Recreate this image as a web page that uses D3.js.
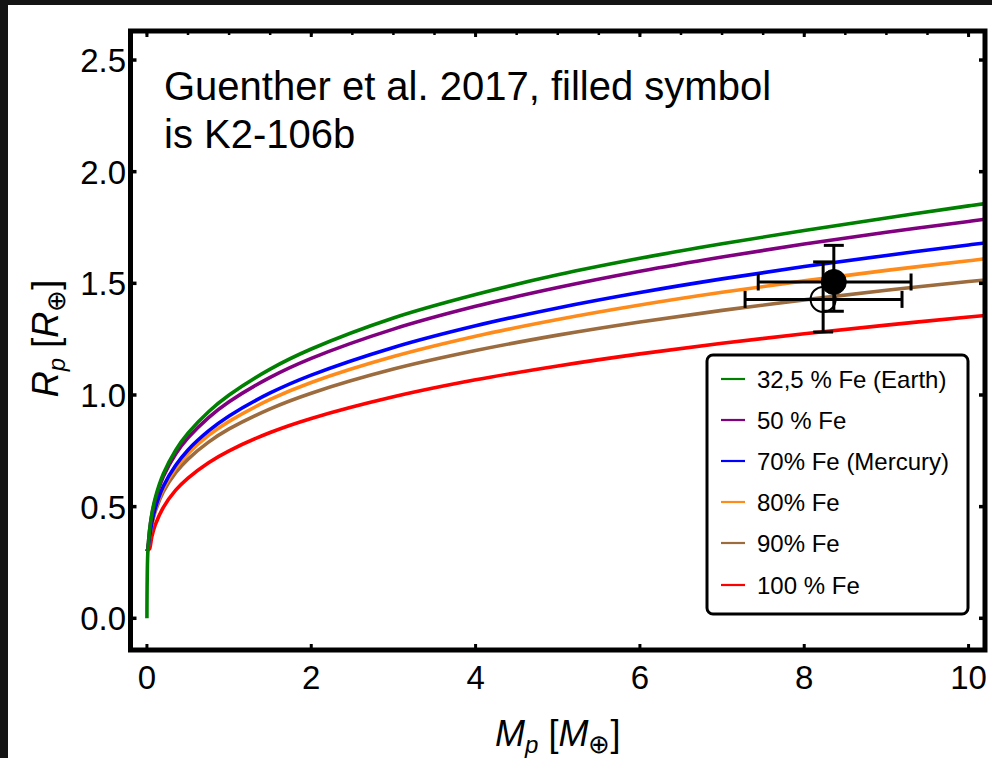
<!DOCTYPE html>
<html><head><meta charset="utf-8">
<script src="https://cdn.jsdelivr.net/npm/d3@7"></script>
<style>body{margin:0;background:#fff;} svg{display:block;}</style>
</head><body><svg id="c" width="992" height="758"></svg>
<script>
// ---- data ----
const masses    = [0, 0.01, 0.03, 0.06, 0.1, 0.2, 0.35, 0.5, 0.75, 1, 1.5, 2, 3, 4, 5, 6, 7, 8, 9, 10, 10.2];
const rFe32     = [0.00, 0.288, 0.388, 0.468, 0.537, 0.647, 0.753, 0.829, 0.925, 1.000, 1.116, 1.206, 1.345, 1.450, 1.538, 1.612, 1.677, 1.737, 1.793, 1.847, 1.857];
const rFe50     = [0.30, 0.310, 0.386, 0.463, 0.529, 0.635, 0.736, 0.808, 0.899, 0.970, 1.079, 1.164, 1.295, 1.397, 1.481, 1.554, 1.618, 1.676, 1.729, 1.777, 1.787];
const rFe70     = [0.30, 0.310, 0.356, 0.429, 0.491, 0.591, 0.685, 0.754, 0.839, 0.906, 1.009, 1.089, 1.213, 1.310, 1.390, 1.459, 1.520, 1.575, 1.625, 1.672, 1.681];
const rFe80     = [0.30, 0.310, 0.356, 0.426, 0.486, 0.581, 0.672, 0.737, 0.819, 0.882, 0.980, 1.056, 1.172, 1.263, 1.338, 1.403, 1.460, 1.511, 1.558, 1.601, 1.610];
const rFe90     = [0.30, 0.310, 0.353, 0.420, 0.477, 0.567, 0.652, 0.713, 0.789, 0.848, 0.938, 1.008, 1.116, 1.199, 1.268, 1.327, 1.379, 1.426, 1.469, 1.508, 1.515];
const rFe100    = [0.30, 0.305, 0.310, 0.366, 0.417, 0.497, 0.574, 0.628, 0.697, 0.750, 0.832, 0.895, 0.992, 1.068, 1.130, 1.184, 1.232, 1.274, 1.313, 1.349, 1.356];
const seriesNames  = ["32,5 % Fe (Earth)", "50 % Fe", "70% Fe (Mercury)", "80% Fe", "90% Fe", "100 % Fe"];
const seriesColors = ["#008000", "#800080", "#0000ff", "#ff8c1a", "#9c6b3e", "#ff0000"];
const seriesValues = [rFe32, rFe50, rFe70, rFe80, rFe90, rFe100];

const pointMass     = [8.36, 8.23];
const pointRadius   = [1.506, 1.428];
const pointMassLo   = [7.44, 7.28];
const pointMassHi   = [9.30, 9.19];
const pointRadiusLo = [1.375, 1.282];
const pointRadiusHi = [1.67, 1.596];
const pointFilled   = [true, false];

const xTicks = [0, 2, 4, 6, 8, 10];
const yTicks = [0, 0.5, 1.0, 1.5, 2.0, 2.5];
const xMinorTicks = d3.range(0, 10.01, 0.5);

// ---- layout ----
const svg = d3.select("#c");
const W = 992, H = 758;
const L = 130.5, R = 985, T = 31, B = 650;
const x = d3.scaleLinear().domain([-0.2, 10.2]).range([L, R]);
const y = d3.scaleLinear().domain([-0.142, 2.63]).range([B, T]);
const FONT = "'Liberation Sans', Arial, sans-serif";

// background with dark strip at top/left
svg.append("rect").attr("width", W).attr("height", H).attr("fill", "#141414");
svg.append("rect").attr("x", 8).attr("y", 5).attr("width", W - 8).attr("height", H - 5).attr("fill", "#fff");

svg.append("defs").append("clipPath").attr("id", "clip")
  .append("rect").attr("x", L).attr("y", T).attr("width", R - L).attr("height", B - T);

// curves (draw last legend entry first so green is on top)
const line = d3.line().x(d => x(d[0])).y(d => y(d[1])).curve(d3.curveCatmullRom.alpha(0.5));
const gCurves = svg.append("g").attr("clip-path", "url(#clip)");
for (let i = seriesValues.length - 1; i >= 0; i--) {
  gCurves.append("path")
    .attr("d", line(masses.map((m, j) => [m, seriesValues[i][j]])))
    .attr("fill", "none").attr("stroke", seriesColors[i]).attr("stroke-width", 3.6)
    .attr("stroke-linejoin", "round");
}

// error bars & points
const gPts = svg.append("g");
const capV = 10, capH = 8.5;
[1, 0].forEach(i => {
  const cx = x(pointMass[i]), cy = y(pointRadius[i]);
  const g = gPts.append("g").attr("stroke", "#000").attr("stroke-width", 3);
  g.append("line").attr("x1", cx).attr("x2", cx).attr("y1", y(pointRadiusLo[i])).attr("y2", y(pointRadiusHi[i]));
  g.append("line").attr("x1", cx - capV).attr("x2", cx + capV).attr("y1", y(pointRadiusLo[i])).attr("y2", y(pointRadiusLo[i]));
  g.append("line").attr("x1", cx - capV).attr("x2", cx + capV).attr("y1", y(pointRadiusHi[i])).attr("y2", y(pointRadiusHi[i]));
  g.append("line").attr("y1", cy).attr("y2", cy).attr("x1", x(pointMassLo[i])).attr("x2", x(pointMassHi[i]));
  g.append("line").attr("y1", cy - capH).attr("y2", cy + capH).attr("x1", x(pointMassLo[i])).attr("x2", x(pointMassLo[i]));
  g.append("line").attr("y1", cy - capH).attr("y2", cy + capH).attr("x1", x(pointMassHi[i])).attr("x2", x(pointMassHi[i]));
});
[1, 0].forEach(i => {
  gPts.append("circle").attr("cx", x(pointMass[i])).attr("cy", y(pointRadius[i]))
    .attr("r", 12.5)
    .attr("fill", pointFilled[i] ? "#000" : "none")
    .attr("stroke", "#000").attr("stroke-width", pointFilled[i] ? 1 : 2);
});

// frame & ticks
const gAx = svg.append("g").attr("stroke", "#000");
xTicks.forEach(t => {
  gAx.append("line").attr("x1", x(t)).attr("x2", x(t)).attr("y1", B).attr("y2", B - 6).attr("stroke-width", 3);
  gAx.append("line").attr("x1", x(t)).attr("x2", x(t)).attr("y1", T).attr("y2", T + 6).attr("stroke-width", 3);
});
xMinorTicks.forEach(t => {
  gAx.append("line").attr("x1", x(t)).attr("x2", x(t)).attr("y1", T).attr("y2", T + 4).attr("stroke-width", 2.5);
});
yTicks.forEach(t => {
  gAx.append("line").attr("y1", y(t)).attr("y2", y(t)).attr("x1", L).attr("x2", L + 6).attr("stroke-width", 3.5);
  gAx.append("line").attr("y1", y(t)).attr("y2", y(t)).attr("x1", R).attr("x2", R - 6).attr("stroke-width", 3.5);
});
gAx.append("rect").attr("x", L).attr("y", T).attr("width", R - L).attr("height", B - T)
  .attr("fill", "none").attr("stroke-width", 5);

// tick labels
svg.append("g").selectAll("text").data(xTicks).join("text")
  .attr("x", d => x(d)).attr("y", 689)
  .attr("text-anchor", "middle").attr("font-family", FONT).attr("font-size", 33).attr("fill", "#000")
  .text(d => d);
svg.append("g").selectAll("text").data(yTicks).join("text")
  .attr("x", 126).attr("y", d => y(d) + 12)
  .attr("text-anchor", "end").attr("font-family", FONT).attr("font-size", 33).attr("fill", "#000")
  .text(d => d.toFixed(1));

// axis titles
function title(sel, letter) {
  sel.append("tspan").attr("font-style", "italic").text(letter);
  sel.append("tspan").attr("font-style", "italic").attr("font-size", 24).attr("dy", 7).text("p");
  sel.append("tspan").attr("dy", -7).text(" [");
  sel.append("tspan").attr("font-style", "italic").text(letter);
  sel.append("tspan").attr("font-size", 26).attr("dy", 7).text("\u2295");
  sel.append("tspan").attr("dy", -7).text("]");
}
const xt = svg.append("text").attr("x", (L + R) / 2).attr("y", 746)
  .attr("text-anchor", "middle").attr("font-family", FONT).attr("font-size", 36).attr("fill", "#000");
title(xt, "M");
const yt = svg.append("text").attr("transform", `translate(58,${(T + B) / 2 - 2}) rotate(-90)`)
  .attr("text-anchor", "middle").attr("font-family", FONT).attr("font-size", 36).attr("fill", "#000");
title(yt, "R");

// annotation
const ann = svg.append("text").attr("font-family", FONT).attr("font-size", 40).attr("fill", "#000");
ann.append("tspan").attr("x", 164).attr("y", 100).text("Guenther et al. 2017, filled symbol");
ann.append("tspan").attr("x", 164).attr("y", 148).text("is K2-106b");

// legend
const lg = svg.append("g");
lg.append("rect").attr("x", 707).attr("y", 355).attr("width", 261).attr("height", 259)
  .attr("rx", 6).attr("fill", "#fff").attr("stroke", "#000").attr("stroke-width", 3);
const rowY = [379, 420, 461, 502, 543, 585];
seriesNames.forEach((n, i) => {
  lg.append("line").attr("x1", 721).attr("x2", 745).attr("y1", rowY[i]).attr("y2", rowY[i])
    .attr("stroke", seriesColors[i]).attr("stroke-width", 2.2);
  lg.append("text").attr("x", 757).attr("y", rowY[i] + 8.5)
    .attr("font-family", FONT).attr("font-size", 24).attr("fill", "#000").text(n);
});
</script></body></html>
